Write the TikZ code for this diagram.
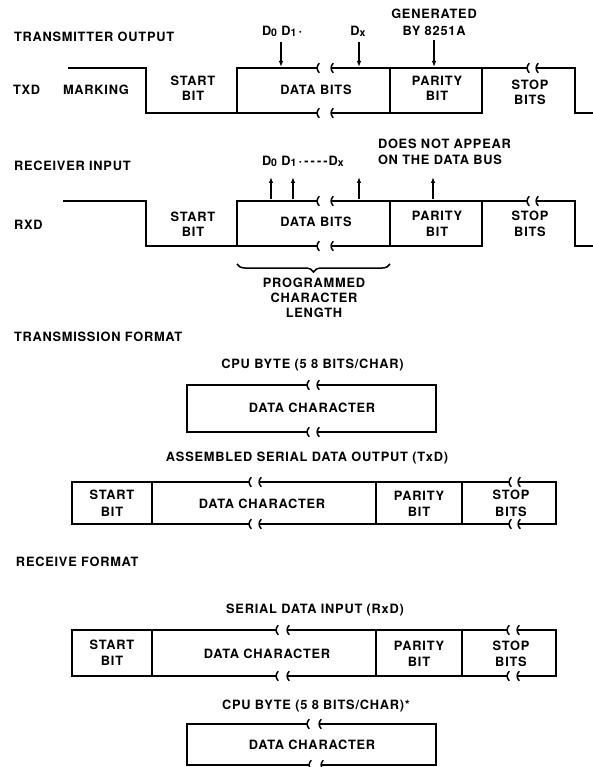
\documentclass[tikz,border=0pt]{standalone}
\usepackage{fontspec}
\newfontfamily\lblfont{TeX Gyre Heros}[LetterSpace=6]
\usetikzlibrary{arrows.meta,decorations.pathreplacing}
\begin{document}
\begin{tikzpicture}[x=1pt,y=-1pt,
  every node/.style={inner sep=0pt,outer sep=0pt},
  txt/.style={font=\fontsize{12.8}{15}\lblfont\bfseries,text height=9.2pt,text depth=0pt},
  wave/.style={line width=2pt,line join=miter},
  arr/.style={line width=1.1pt,-{Latex[length=6pt,width=4.5pt]}},
  pics/brk/.style={code={\draw[line width=1.5pt] (1.3,-4.8) .. controls (-1.6,-2) and (-1.6,2) .. (1.3,4.8);}}
]
\useasboundingbox (0,0) rectangle (593,767);
\newcommand{\brkpair}[3]{\pic at (#1,#3) {brk}; \pic at (#2,#3) {brk};}
\newcommand{\sub}[1]{\raisebox{-1.2pt}{\fontsize{10.5}{10.5}\selectfont #1}}

% ---------------- TRANSMITTER OUTPUT ----------------
\node[txt,anchor=west] (txtitle) at (14,36.5) {TRANSMITTER OUTPUT};
\node[txt,anchor=west] (txd) at (13,90) {TXD};
\node[txt,anchor=west] (mark) at (63,90) {MARKING};
\node[txt] (ts1) at (193,80.5) {START};
\node[txt] (ts2) at (193,95.5) {BIT};
\node[txt] (tdb) at (316,90) {DATA BITS};
\node[txt] (tp1) at (437,80.5) {PARITY};
\node[txt] (tp2) at (437,95.5) {BIT};
\node[txt] (tst1) at (530,85) {STOP};
\node[txt] (tst2) at (530,100) {BITS};
\node[txt,anchor=west] (td01) at (262,31) {D\sub{0} D\sub{1}\,·};
\node[txt] (tdx) at (358,31) {D\sub{x}};
\node[txt] (tgen1) at (434,14) {GENERATED};
\node[txt] (tgen2) at (434,31) {BY 8251A};

\coordinate (ta0) at (281,42); \coordinate (tb0) at (281,67);
\coordinate (ta1) at (359,42); \coordinate (tb1) at (359,67);
\coordinate (ta2) at (434,40); \coordinate (tb2) at (434,67);
\draw[arr] (ta0) -- (tb0);
\draw[arr] (ta1) -- (tb1);
\draw[arr] (ta2) -- (tb2);

\draw[wave] (68,68) -- (146,68) -- (146,113) -- (318,113);
\draw[wave] (237,113) -- (237,68) -- (318,68);
\draw[wave] (332,68) -- (528,68);
\draw[wave] (537,68) -- (575,68) -- (575,113) -- (593,113);
\draw[wave] (332,113) -- (482,113) -- (482,68);
\draw[wave] (390,68) -- (390,113);
\brkpair{318}{332}{68}
\brkpair{318}{332}{113}
\brkpair{528}{537}{68}

% ---------------- RECEIVER INPUT ----------------
\node[txt,anchor=west] (rxtitle) at (14,166) {RECEIVER INPUT};
\node[txt,anchor=west] (rxd) at (14,225) {RXD};
\node[txt] (rs1) at (193,216.5) {START};
\node[txt] (rs2) at (193,232) {BIT};
\node[txt] (rdb) at (316,222) {DATA BITS};
\node[txt] (rp1) at (437,216) {PARITY};
\node[txt] (rp2) at (437,231.5) {BIT};
\node[txt] (rst1) at (530,216) {STOP};
\node[txt] (rst2) at (530,231.5) {BITS};
\node[txt,anchor=west] (rd01) at (262,161) {D\sub{0} D\sub{1}\,·\,-\,-\,-\,-D\sub{x}};
\node[txt,anchor=west] (rno1) at (378,144) {DOES NOT APPEAR};
\node[txt,anchor=west] (rno2) at (378,160) {ON THE DATA BUS};

\coordinate (ra0) at (271,199); \coordinate (rb0) at (271,177);
\coordinate (ra1) at (293,199); \coordinate (rb1) at (293,177);
\coordinate (ra2) at (359,199); \coordinate (rb2) at (359,177);
\coordinate (ra3) at (433,199); \coordinate (rb3) at (433,177);
\draw[arr] (ra0) -- (rb0);
\draw[arr] (ra1) -- (rb1);
\draw[arr] (ra2) -- (rb2);
\draw[arr] (ra3) -- (rb3);

\draw[wave] (63,201) -- (146,201) -- (146,246) -- (318,246);
\draw[wave] (237,246) -- (237,201) -- (318,201);
\draw[wave] (332,201) -- (528,201);
\draw[wave] (537,201) -- (575,201) -- (575,246) -- (593,246);
\draw[wave] (332,246) -- (482,246) -- (482,201);
\draw[wave] (390,201) -- (390,246);
\brkpair{318}{332}{201}
\brkpair{318}{332}{246}
\brkpair{528}{537}{201}

\coordinate (brl) at (237,264);
\coordinate (brr) at (390,264);
\draw[line width=1.5pt,decorate,decoration={brace,mirror,amplitude=8pt}] (brl) -- (brr);
\node[txt] (pc1) at (314,283) {PROGRAMMED};
\node[txt] (pc2) at (314,298) {CHARACTER};
\node[txt] (pc3) at (314,313) {LENGTH};

% ---------------- TRANSMISSION FORMAT ----------------
\node[txt,anchor=west] (tftitle) at (14,336.5) {TRANSMISSION FORMAT};
\node[txt] (cpu1) at (312.5,364) {CPU BYTE (5 8 BITS/CHAR)};
\draw[wave] (308,385) -- (187,385) -- (187,432) -- (308,432);
\draw[wave] (318,385) -- (436,385) -- (436,432) -- (318,432);
\brkpair{308}{318}{385}
\brkpair{308}{318}{432}
\node[txt] (dc1) at (312,408) {DATA CHARACTER};

\node[txt] (asm) at (307,457) {ASSEMBLED SERIAL DATA OUTPUT (TxD)};
\draw[wave] (250,482) -- (72,482) -- (72,524) -- (250,524);
\draw[wave] (260,482) -- (510,482);
\draw[wave] (260,524) -- (510,524);
\draw[wave] (519,482) -- (556,482) -- (556,524) -- (519,524);
\draw[wave] (152,482) -- (152,524);
\draw[wave] (376,482) -- (376,524);
\draw[wave] (462,482) -- (462,524);
\brkpair{250}{260}{482}
\brkpair{250}{260}{524}
\brkpair{510}{519}{482}
\brkpair{510}{519}{524}
\node[txt] (a1) at (112,494.5) {START};
\node[txt] (a2) at (112,511.5) {BIT};
\node[txt] (a3) at (262,503.5) {DATA CHARACTER};
\node[txt] (a4) at (419,496) {PARITY};
\node[txt] (a5) at (419,512) {BIT};
\node[txt] (a6) at (511,495) {STOP};
\node[txt] (a7) at (511,512) {BITS};

% ---------------- RECEIVE FORMAT ----------------
\node[txt,anchor=west] (rftitle) at (16,561.5) {RECEIVE FORMAT};
\node[txt] (sdi) at (315,608.5) {SERIAL DATA INPUT (RxD)};
\draw[wave] (277,630) -- (72,630) -- (72,676) -- (277,676);
\draw[wave] (288,630) -- (508,630);
\draw[wave] (288,676) -- (508,676);
\draw[wave] (518,630) -- (556,630) -- (556,676) -- (518,676);
\draw[wave] (152,630) -- (152,676);
\draw[wave] (376,630) -- (376,676);
\draw[wave] (462,630) -- (462,676);
\brkpair{277}{288}{630}
\brkpair{277}{288}{676}
\brkpair{508}{518}{630}
\brkpair{508}{518}{676}
\node[txt] (b1) at (112,645) {START};
\node[txt] (b2) at (112,661) {BIT};
\node[txt] (b3) at (267,653.5) {DATA CHARACTER};
\node[txt] (b4) at (419,646) {PARITY};
\node[txt] (b5) at (419,662) {BIT};
\node[txt] (b6) at (511,646) {STOP};
\node[txt] (b7) at (511,662) {BITS};

\node[txt] (cpu2) at (316,705) {CPU BYTE (5 8 BITS/CHAR)*};
\draw[wave] (308,724) -- (187,724) -- (187,765) -- (310,765);
\draw[wave] (320,724) -- (436,724) -- (436,765) -- (322,765);
\brkpair{308}{320}{724}
\brkpair{310}{322}{765}
\node[txt] (dc2) at (312,745) {DATA CHARACTER};
\end{tikzpicture}
\end{document}
